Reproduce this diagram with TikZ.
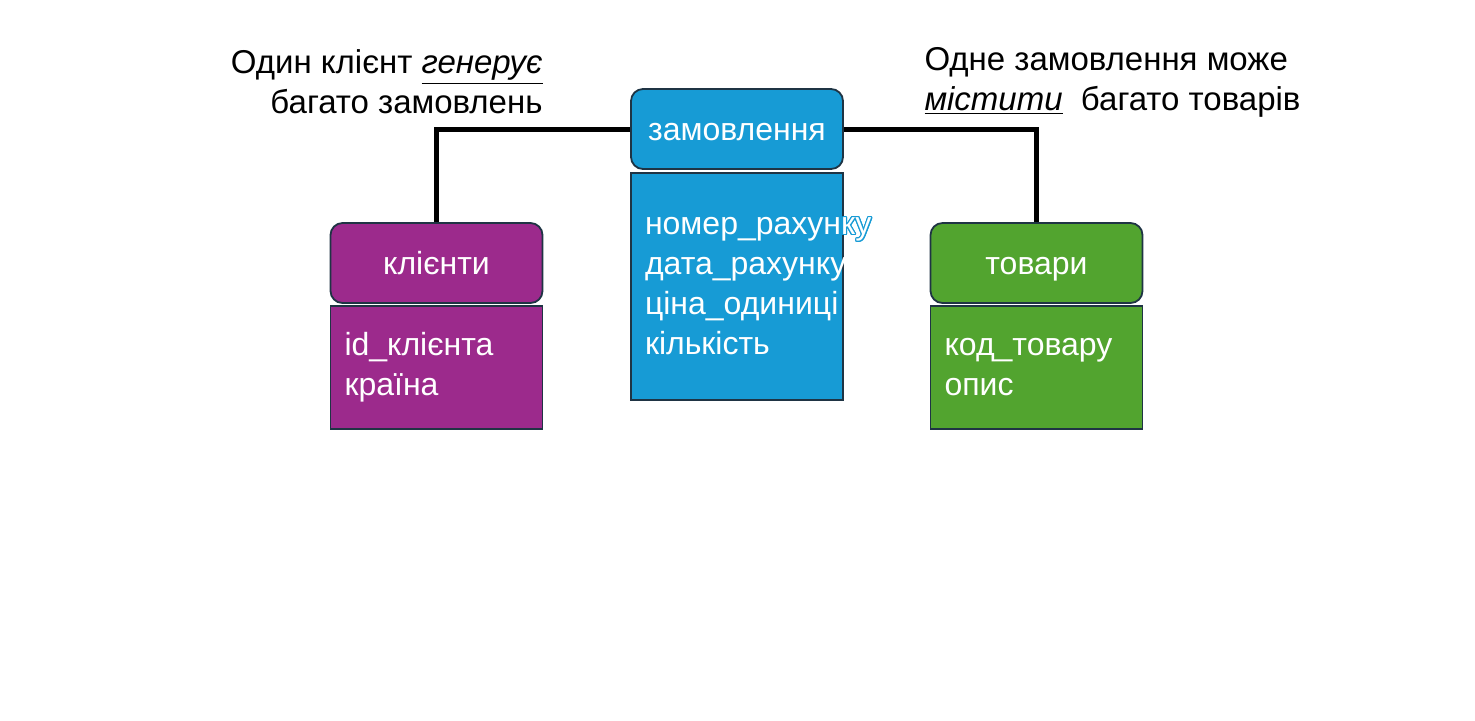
\documentclass[tikz,border=0pt]{standalone}
\usepackage{fontspec}
\setmainfont{Liberation Sans}
\usepackage{contour}
\usetikzlibrary{positioning}
\definecolor{zblue}{HTML}{179BD5}
\definecolor{kpurple}{HTML}{9C2A8C}
\definecolor{tgreen}{HTML}{52A42F}
\definecolor{edgegray}{HTML}{1F3444}
\contourlength{0.6pt}

\begin{document}
\begin{tikzpicture}[x=0.5pt, y=-0.5pt, line width=2.5pt, font=\fontsize{16.5}{20}\selectfont,
	head/.style={rectangle, rounded corners=6pt, draw=edgegray, line width=0.9pt, text=white, font=\fontsize{16}{20}\selectfont, minimum width=106pt, minimum height=40pt, inner sep=0pt, text height=12pt, text depth=1pt},
	attrs/.style={rectangle, draw=edgegray, line width=0.9pt, text=white, font=\fontsize{16}{20}\selectfont, text width=92pt, inner xsep=7pt, inner ysep=0pt, align=left},
	link/.style={draw=black, line width=2.5pt}]
	\useasboundingbox (0,0) rectangle (1475,720);
	\node [head, fill=zblue] (zam) at (737,129) {замовлення};
	\node [attrs, fill=zblue, minimum height=113.5pt] (zamattr) [below=1pt of zam] {\contour{zblue}{номер\_рахунку}\\ дата\_рахунку\\ ціна\_одиниці\\ кількість};
	\node [head, fill=kpurple] (kli) at (436.5,263) {клієнти};
	\node [attrs, fill=kpurple, minimum height=61.5pt] (kliattr) [below=0.5pt of kli] {id\_клієнта\\ країна};
	\node [head, fill=tgreen] (tov) at (1036.5,263) {товари};
	\node [attrs, fill=tgreen, minimum height=61.5pt] (tovattr) [below=0.5pt of tov] {код\_товару\\ опис};
	\node [align=right, anchor=east, inner sep=0pt] (gen) at (545,82) {Один клієнт \underline{\textit{генерує}}\\ багато замовлень};
	\node [align=left, anchor=west, inner sep=0pt] (mist) at (922,82) {Одне замовлення може\\ \underline{\textit{містити}}\ \ багато товарів};
	\path [link] (zam.west) -| (kli.north);
	\path [link] (zam.east) -| (tov.north);
\end{tikzpicture}
\end{document}
